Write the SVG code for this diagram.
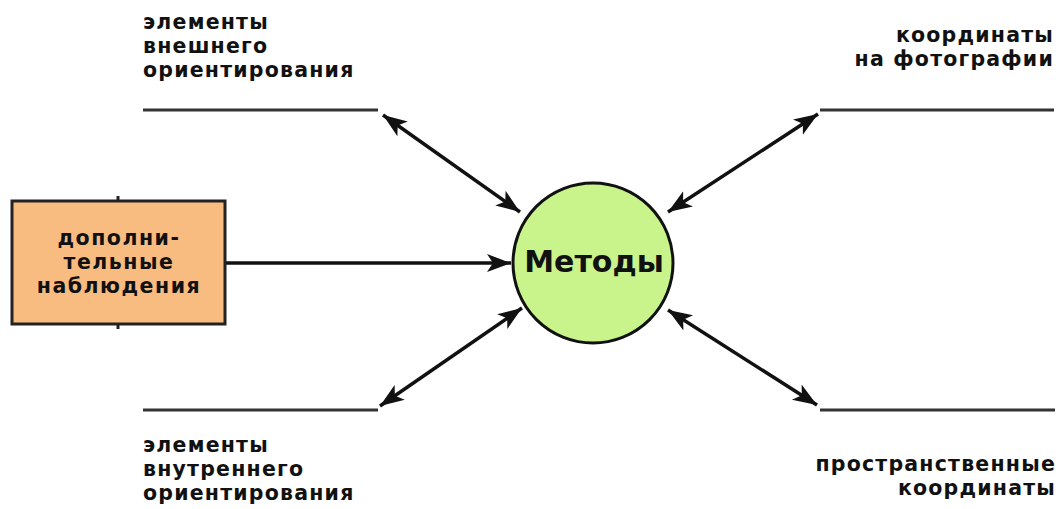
<svg xmlns="http://www.w3.org/2000/svg" width="1061" height="509" viewBox="0 0 1061 509">
<style>
.lbl{font-family:"DejaVu Sans","Verdana",sans-serif;font-weight:bold;font-size:20.5px;letter-spacing:1.2px;fill:#111}
.rt{text-anchor:end}
.mid{text-anchor:middle}
.ln{stroke:#333;stroke-width:3;fill:none}
.arr{stroke:#111;stroke-width:3.5;fill:none}
</style>
<defs>
<marker id="ah" markerUnits="userSpaceOnUse" markerWidth="26" markerHeight="20" refX="24" refY="10" orient="auto-start-reverse">
<path d="M0,1 L24,10 L0,19 L6,10 z" fill="#111"/>
</marker>
</defs>
<rect width="1061" height="509" fill="#fff"/>
<g id="connectors">
<line class="arr" x1="226" y1="263" x2="511" y2="263" marker-end="url(#ah)"/>
<line class="arr" x1="383" y1="115" x2="520" y2="212" marker-start="url(#ah)" marker-end="url(#ah)"/>
<line class="arr" x1="818" y1="114" x2="668" y2="212" marker-start="url(#ah)" marker-end="url(#ah)"/>
<line class="arr" x1="380" y1="406" x2="522" y2="308" marker-start="url(#ah)" marker-end="url(#ah)"/>
<line class="arr" x1="817" y1="405" x2="668" y2="310" marker-start="url(#ah)" marker-end="url(#ah)"/>
</g>
<g id="ext-orient">
<line class="ln" x1="143" y1="110" x2="378" y2="110"/>
<text class="lbl" x="143" y="29">элементы<tspan x="143" dy="24">внешнего</tspan><tspan x="143" dy="24">ориентирования</tspan></text>
</g>
<g id="photo-coords">
<line class="ln" x1="820" y1="110" x2="1054" y2="110"/>
<text class="lbl rt" x="1054" y="42">координаты<tspan x="1054" dy="24">на фотографии</tspan></text>
</g>
<g id="int-orient">
<line class="ln" x1="143" y1="410" x2="378" y2="410"/>
<text class="lbl" x="143" y="452">элементы<tspan x="143" dy="24">внутреннего</tspan><tspan x="143" dy="24">ориентирования</tspan></text>
</g>
<g id="space-coords">
<line class="ln" x1="820" y1="410" x2="1055" y2="410"/>
<text class="lbl rt" x="1056" y="471">пространственные<tspan x="1056" dy="24">координаты</tspan></text>
</g>
<g id="observations">
<line x1="118" y1="196" x2="118" y2="329" stroke="#222" stroke-width="3"/>
<rect x="12" y="201" width="213" height="123" fill="#F9BC80" stroke="#222" stroke-width="3"/>
<text class="lbl mid" x="119" y="245" style="letter-spacing:1.5px">дополни-<tspan x="119" dy="24">тельные</tspan><tspan x="119" dy="24">наблюдения</tspan></text>
</g>
<g id="methods">
<circle cx="593" cy="263" r="80" fill="#C9F48C" stroke="#111" stroke-width="3"/>
<text class="lbl mid" x="594" y="272" style="font-size:30px;letter-spacing:0">Методы</text>
</g>
</svg>
